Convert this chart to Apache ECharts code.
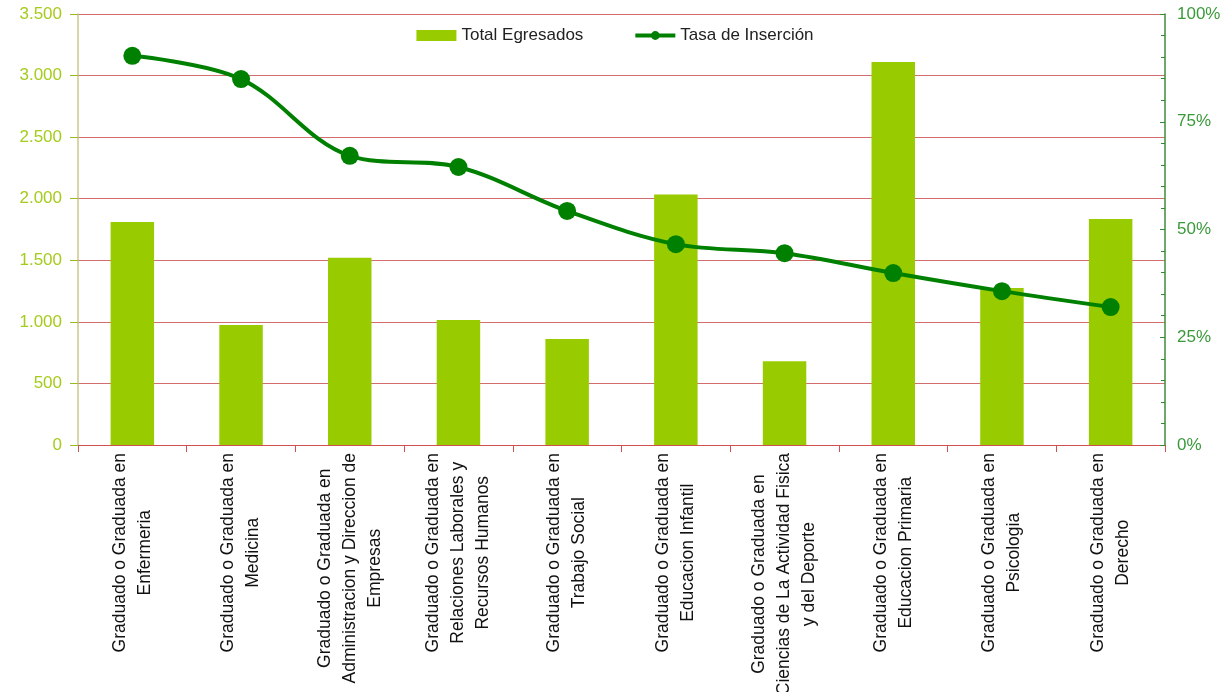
<!DOCTYPE html>
<html>
<head>
<meta charset="utf-8">
<script src="https://cdn.jsdelivr.net/npm/echarts@6/dist/echarts.min.js"></script>
<style>
html,body{margin:0;padding:0;background:#fff;}
#chart{width:1230px;height:692px;}
</style>
</head>
<body>
<div id="chart"></div>
<script>
const categories = [
  "Graduado o Graduada en\nEnfermeria",
  "Graduado o Graduada en\nMedicina",
  "Graduado o Graduada en\nAdministracion y Direccion de\nEmpresas",
  "Graduado o Graduada en\nRelaciones Laborales y\nRecursos Humanos",
  "Graduado o Graduada en\nTrabajo Social",
  "Graduado o Graduada en\nEducacion Infantil",
  "Graduado o Graduada en\nCiencias de La Actividad Fisica\ny del Deporte",
  "Graduado o Graduada en\nEducacion Primaria",
  "Graduado o Graduada en\nPsicologia",
  "Graduado o Graduada en\nDerecho"
];
const totalEgresados = [1810, 975, 1520, 1015, 860, 2035, 680, 3110, 1275, 1835];
const tasaInsercion = [0.903, 0.849, 0.671, 0.645, 0.543, 0.466, 0.445, 0.399, 0.357, 0.320];
const seriesNames = ["Total Egresados", "Tasa de Inserción"];

const FONT = "Liberation Sans";
const chart = echarts.init(document.getElementById('chart'));
function fmtThousands(v){
  return String(v).replace(/\B(?=(\d{3})+(?!\d))/g, '.');
}
chart.setOption({
  animation: false,
  backgroundColor: '#ffffff',
  legend: {
    top: 22,
    left: 'center',
    itemGap: 50,
    itemWidth: 40,
    itemHeight: 11,
    textStyle: {fontFamily: FONT, fontSize: 17, color: '#222'},
    data: [
      {name: seriesNames[0], icon: 'rect'},
      {name: seriesNames[1], lineStyle: {width: 4}}
    ]
  },
  grid: {left: 78, right: 65, top: 14, bottom: 247, containLabel: false, outerBoundsMode: 'none'},
  xAxis: {
    type: 'category',
    data: categories,
    boundaryGap: true,
    axisLine: {lineStyle: {color: '#d05050', width: 1}},
    axisTick: {show: true, length: 7, lineStyle: {color: '#d05050'}},
    axisLabel: {
      rotate: 90,
      interval: 0,
      margin: 8,
      formatter: function(v){
        return v.split('\n').map(s => '{c|' + s + '}').join('\n');
      },
      rich: {
        c: {align: 'center', fontFamily: FONT, fontSize: 17.5, lineHeight: 25, color: '#111'}
      }
    }
  },
  yAxis: [
    {
      type: 'value',
      min: 0, max: 3500, interval: 500,
      axisLine: {show: true, lineStyle: {color: '#c8c88c', width: 1.5}},
      axisTick: {show: true, length: 8, lineStyle: {color: '#99bb22'}},
      axisLabel: {
        color: '#a4cc1c', fontFamily: FONT, fontSize: 17, margin: 16,
        formatter: fmtThousands
      },
      splitLine: {show: true, lineStyle: {color: '#d26e6e', width: 1.2}}
    },
    {
      type: 'value',
      min: 0, max: 1, interval: 0.25,
      position: 'right',
      axisLine: {show: true, lineStyle: {color: '#3c8c3c', width: 1.5}},
      axisTick: {show: true, length: 5, inside: true, lineStyle: {color: '#2d8a2d'}},
      minorTick: {show: true, splitNumber: 5, length: 4, lineStyle: {color: '#2d8a2d'}},
      axisLabel: {
        color: '#3a9a3a', fontFamily: FONT, fontSize: 17, margin: 12,
        formatter: v => Math.round(v * 100) + '%'
      },
      splitLine: {show: false}
    }
  ],
  series: [
    {
      name: seriesNames[0],
      type: 'bar',
      yAxisIndex: 0,
      data: totalEgresados,
      barWidth: '40%',
      itemStyle: {color: '#99cc00'}
    },
    {
      name: seriesNames[1],
      type: 'line',
      yAxisIndex: 1,
      data: tasaInsercion,
      smooth: 0.35,
      symbol: 'circle',
      symbolSize: 18,
      lineStyle: {color: '#008000', width: 4},
      itemStyle: {color: '#008000'}
    }
  ]
});
</script>
</body>
</html>
